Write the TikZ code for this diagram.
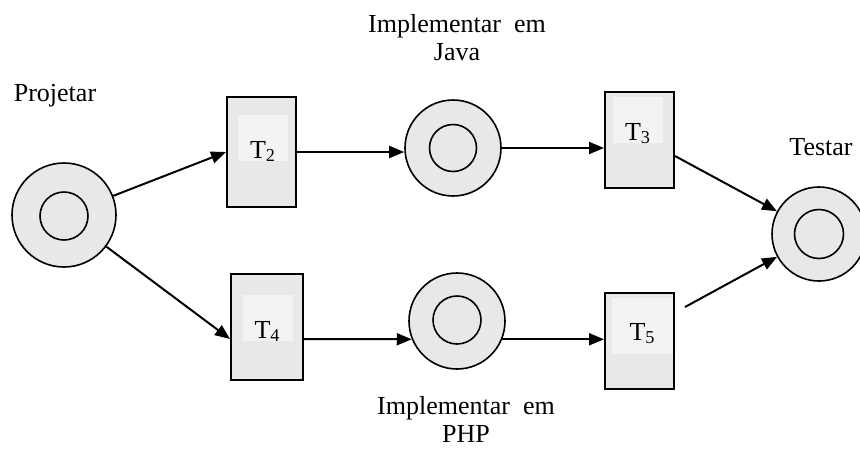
\documentclass[tikz,border=0pt]{standalone}
\usepackage{fontspec}
\setmainfont{Liberation Serif}
\usetikzlibrary{arrows.meta}

\definecolor{shadegray}{HTML}{E8E8E8}
\definecolor{labelgray}{HTML}{F3F3F3}

\begin{document}
\begin{tikzpicture}[x=0.5pt, y=-0.5pt,
  place/.style={circle, draw, line width=0.8pt, fill=shadegray, inner sep=0pt, minimum size=#1},
  trans/.style={rectangle, draw, line width=1pt, fill=shadegray, inner sep=0pt},
  tname/.style={fill=labelgray, inner sep=0pt, minimum width=25pt, text height=21.5pt, text depth=1.5pt, font=\fontsize{13}{15}\selectfont},
  caption/.style={align=center, font=\fontsize{13}{14}\selectfont},
  flow/.style={-{Triangle[length=7.5pt, width=6pt]}, line width=1pt}]
  \useasboundingbox (0, 0) rectangle (860, 450);

  \node[place=52pt] (p1) at (64, 215) {};
  \node[place=24pt] (p1in) at (64, 216) {};
  \node[place=48pt] (p2) at (453, 148) {};
  \node[place=23.5pt] (p2in) at (453, 148) {};
  \node[place=48pt] (p3) at (457, 321) {};
  \node[place=24pt] (p3in) at (457, 320) {};
  \node[place=47pt] (p4) at (819, 234) {};
  \node[place=24.5pt] (p4in) at (819, 234) {};

  \node[trans, minimum width=34.5pt, minimum height=55pt] (t2) at (261.5, 152) {};
  \node[trans, minimum width=36pt, minimum height=53pt] (t4) at (267, 327) {};
  \node[trans, minimum width=34.5pt, minimum height=48pt] (t3) at (639.5, 140) {};
  \node[trans, minimum width=34.5pt, minimum height=48pt] (t5) at (639.5, 341) {};

  \node[tname] (t2name) at (263, 138) {T\textsubscript{2}};
  \node[tname] (t4name) at (267.5, 318) {T\textsubscript{4}};
  \node[tname] (t3name) at (638, 120) {T\textsubscript{3}};
  \node[tname, minimum width=30.5pt, text height=21pt, text depth=7pt] (t5name) at (642.5, 326) {T\textsubscript{5}};

  \node[caption, anchor=base] (projetar) at (55, 101) {Projetar};
  \node[caption] (java) at (457, 38) {Implementar\ \ em\\Java};
  \node[caption] (php) at (466, 419) {Implementar\ \ em\\PHP};
  \node[caption, anchor=base] (testar) at (821, 155) {Testar};

  \coordinate (t5out) at ([shift={(10, 15)}]t5.north east);

  \draw[flow] (p1) -- (t2.west);
  \draw[flow] (p1) -- ([yshift=-6pt]t4.west);
  \draw[flow] (t2.east) -- (t2.east -| p2.west);
  \draw[flow] (p2.east) -- (p2.east -| t3.west);
  \draw[flow] ([yshift=-6pt]t4.east) -- (p3.202);
  \draw[flow] (p3.338) -- (p3.338 -| t5.west);
  \draw[flow] ([yshift=-8pt]t3.east) -- (p4);
  \draw[flow] (t5out) -- (p4);

\end{tikzpicture}
\end{document}
